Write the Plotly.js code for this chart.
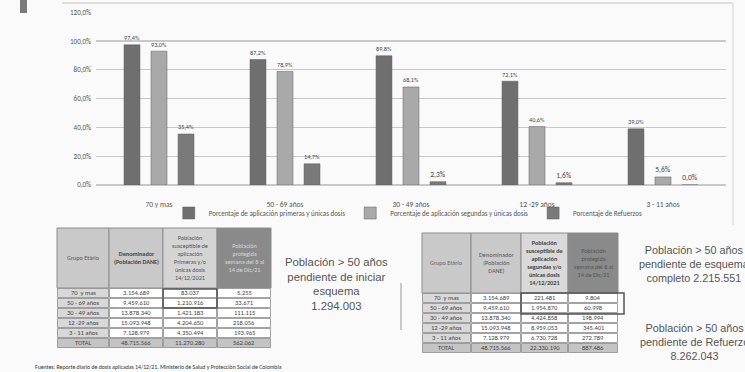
<!DOCTYPE html>
<html>
<head>
<meta charset="utf-8">
<script src="https://cdn.plot.ly/plotly-3.0.1.min.js"></script>
<style>html,body{margin:0;padding:0;background:#fafafa;}#chart{width:745px;height:372px;}</style>
</head>
<body>
<div id="chart"></div>
<script>
// ---- Chart data ----
const categories = ["70 y mas", "50 - 69 años", "30 - 49 años", "12 -29 años", "3 - 11 años"];
const seriesNames = ["Porcentaje de aplicación primeras y únicas dosis", "Porcentaje de aplicación segundas y únicas dosis", "Porcentaje de Refuerzos"];
const primeras = [97.4, 87.2, 89.8, 72.1, 39.0];
const segundas = [93.0, 78.9, 68.1, 40.6, 5.6];
const refuerzos = [35.4, 14.7, 2.3, 1.6, 0.0];
const yTicks = [0, 20, 40, 60, 80, 100, 120];

// ---- Table data ----
const tableGroups = ["70  y mas", "50 - 69 años", "30 - 49 años", "12 -29 años", "3 - 11 años", "TOTAL"];
const denominador = ["3.154.689", "9.459.610", "13.878.340", "15.093.948", "7.128.979", "48.715.566"];
const t1Header = ["Grupo Etário", "<b>Denominador<br>(Población DANE)</b>", "Población<br>susceptible de<br>aplicación<br>Primeras y/o<br>únicas dosis<br>14/12/2021", "Población<br>protegida<br>semana del 8 al<br>14 de Dic/21"];
const t1Susceptible = ["83.037", "1.210.916", "1.421.183", "4.204.650", "4.350.494", "11.270.280"];
const t1Protegida = ["5.255", "33.671", "111.115", "218.056", "193.965", "562.062"];
const t2Header = ["Grupo Etário", "Denominador<br>(Población<br>DANE)", "<b>Población<br>susceptible de<br>aplicación<br>segundas y/o<br>únicas dosis<br>14/12/2021</b>", "Población<br>protegida<br>semana del 8 al<br>14 de Dic/21"];
const t2Susceptible = ["221.481", "1.954.870", "4.424.858", "8.959.053", "6.730.728", "22.330.190"];
const t2Protegida = ["9.804", "60.998", "198.994", "345.401", "272.789", "887.486"];

const noteLeft = "Población > 50 años<br>pendiente de iniciar<br>esquema<br>1.294.003";
const noteRight1 = "Población > 50 años<br>pendiente de esquema<br>completo 2.215.551";
const noteRight2 = "Población > 50 años<br>pendiente de Refuerzo<br>8.262.043";
const source = "Fuentes: Reporte diario de dosis aplicadas 14/12/21. Ministerio de Salud y Protección Social de Colombia";

const W = 745, H = 372;
const px = v => v / W;
const py = v => 1 - v / H;

const barColors = ["#6f6f6f", "#a9a9a9", "#7a7a7a"];
const seriesVals = [primeras, segundas, refuerzos];
const FONT = "Calibri, Carlito, 'Liberation Sans', Arial, sans-serif";
const NOTEFONT = "'Liberation Sans Narrow', 'Arial Narrow', 'Liberation Sans', Arial, sans-serif";

const barTraces = seriesVals.map((vals, i) => ({
  type: "bar",
  name: seriesNames[i],
  x: categories,
  y: vals,
  marker: {color: barColors[i], line: {color: "#5a5a5a", width: 0.5}},
  texttemplate: "%{y:.1f}%",
  textposition: "outside",
  textfont: {size: 7.5, color: "#444", family: FONT},
  cliponaxis: false,
  hoverinfo: "skip"
}));

// ---- Tables drawn as paper-positioned cells ----
const shapes = [];
const annotations = [];

function drawTable(columns, headerTexts, xEdges, yTop, headerH, rowH, headerFills, headerFontColors) {
  const nRows = columns[0].length;
  for (let c = 0; c < columns.length; c++) {
    const x0 = xEdges[c], x1 = xEdges[c + 1];
    shapes.push({type: "rect", xref: "paper", yref: "paper", x0: px(x0), x1: px(x1), y0: py(yTop + headerH), y1: py(yTop),
      fillcolor: headerFills[c], line: {color: "#8c8c8c", width: 1}, layer: "below"});
    annotations.push({xref: "paper", yref: "paper", x: px((x0 + x1) / 2), y: py(yTop + headerH / 2), xanchor: "center", yanchor: "middle",
      text: headerTexts[c], showarrow: false, align: "center", font: {size: 6.2, color: headerFontColors[c], family: FONT}});
    for (let r = 0; r < nRows; r++) {
      const ya = yTop + headerH + r * rowH;
      const isTotal = r === nRows - 1;
      const fill = isTotal ? "#c4c4c4" : (c === 0 ? "#d8d8d8" : "#ffffff");
      shapes.push({type: "rect", xref: "paper", yref: "paper", x0: px(x0 + 0.5), x1: px(x1 - 0.5), y0: py(ya + rowH - 0.5), y1: py(ya + 0.5),
        fillcolor: fill, line: {color: "#8c8c8c", width: 0.8}, layer: "below"});
      annotations.push({xref: "paper", yref: "paper", x: px((x0 + x1) / 2), y: py(ya + rowH / 2), xanchor: "center", yanchor: "middle",
        text: columns[c][r], showarrow: false, font: {size: 6.5, color: "#444", family: FONT}});
    }
  }
}

drawTable([tableGroups, denominador, t1Susceptible, t1Protegida], t1Header, [57, 109, 163, 217, 271], 228, 60, 10,
  ["#c9c9c9", "#c9c9c9", "#d4d4d4", "#8a8a8a"], ["#555", "#444", "#555", "#d8d8d8"]);
drawTable([tableGroups, denominador, t2Susceptible, t2Protegida], t2Header, [422, 471, 521, 568, 618], 233, 60, 10,
  ["#c9c9c9", "#c9c9c9", "#d9d9d9", "#8a8a8a"], ["#666", "#555", "#444", "#555"]);

shapes.push(
  {type: "rect", xref: "paper", yref: "paper", x0: px(20), x1: px(27), y0: py(13), y1: py(0), fillcolor: "#7a7a7a", line: {width: 0}},
  {type: "line", xref: "paper", yref: "paper", x0: px(62), x1: px(733), y0: py(3), y1: py(3), line: {color: "#c4c4c4", width: 1}},
  {type: "line", xref: "paper", yref: "paper", x0: px(733), x1: px(733), y0: py(225), y1: py(3), line: {color: "#d4d4d4", width: 1}},
  {type: "rect", xref: "paper", yref: "paper", x0: px(163), x1: px(217), y0: py(308), y1: py(289), line: {color: "#555", width: 1.5}},
  {type: "rect", xref: "paper", yref: "paper", x0: px(521), x1: px(624), y0: py(314), y1: py(293), line: {color: "#555", width: 1.5}},
  {type: "line", xref: "paper", yref: "paper", x0: px(401), x1: px(401), y0: py(330), y1: py(283), line: {color: "#999", width: 1}}
);

annotations.push(
  {xref: "paper", yref: "paper", x: px(336), y: py(284), xanchor: "center", yanchor: "middle", text: noteLeft, showarrow: false, align: "center", font: {size: 11.3, color: "#555", family: NOTEFONT}},
  {xref: "paper", yref: "paper", x: px(694), y: py(264), xanchor: "center", yanchor: "middle", text: noteRight1, showarrow: false, align: "center", font: {size: 10.8, color: "#555", family: NOTEFONT}},
  {xref: "paper", yref: "paper", x: px(694), y: py(342), xanchor: "center", yanchor: "middle", text: noteRight2, showarrow: false, align: "center", font: {size: 10.8, color: "#555", family: NOTEFONT}},
  {xref: "paper", yref: "paper", x: px(33), y: py(367), xanchor: "left", yanchor: "middle", text: source, showarrow: false, font: {size: 5.8, color: "#333", family: FONT}}
);

const layout = {
  width: W, height: H,
  margin: {l: 0, r: 0, t: 0, b: 0},
  paper_bgcolor: "#fafafa",
  plot_bgcolor: "rgba(0,0,0,0)",
  separators: ",.",
  font: {family: FONT, color: "#555"},
  barmode: "group",
  bargap: 0.357,
  bargroupgap: 0.41,
  showlegend: true,
  legend: {
    orientation: "h", x: 0.548, xanchor: "center", y: py(213), yanchor: "middle",
    font: {size: 7, color: "#555", family: FONT}, bgcolor: "rgba(0,0,0,0)",
    itemwidth: 30, tracegroupgap: 0
  },
  xaxis: {
    domain: [px(96), px(726)],
    type: "category",
    showgrid: false, showline: false, zeroline: false, ticks: "",
    tickfont: {size: 7.5, color: "#555", family: FONT},
    ticklabelstandoff: 13,
    fixedrange: true
  },
  yaxis: {
    domain: [py(185), py(12.3)],
    range: [0, 120],
    tickmode: "array",
    tickvals: yTicks,
    ticktext: yTicks.map(v => v.toFixed(1).replace(".", ",") + "%"),
    tickfont: {size: 7, color: "#555", family: FONT},
    ticklabelstandoff: 4,
    showgrid: true, gridcolor: "#c8c8c8", gridwidth: 1.2,
    zeroline: true, zerolinecolor: "#c8c8c8", zerolinewidth: 1.2,
    showline: false, ticks: "",
    fixedrange: true
  },
  shapes: shapes,
  annotations: annotations
};

Plotly.newPlot("chart", barTraces, layout, {displayModeBar: false, staticPlot: true});
</script>
</body>
</html>
